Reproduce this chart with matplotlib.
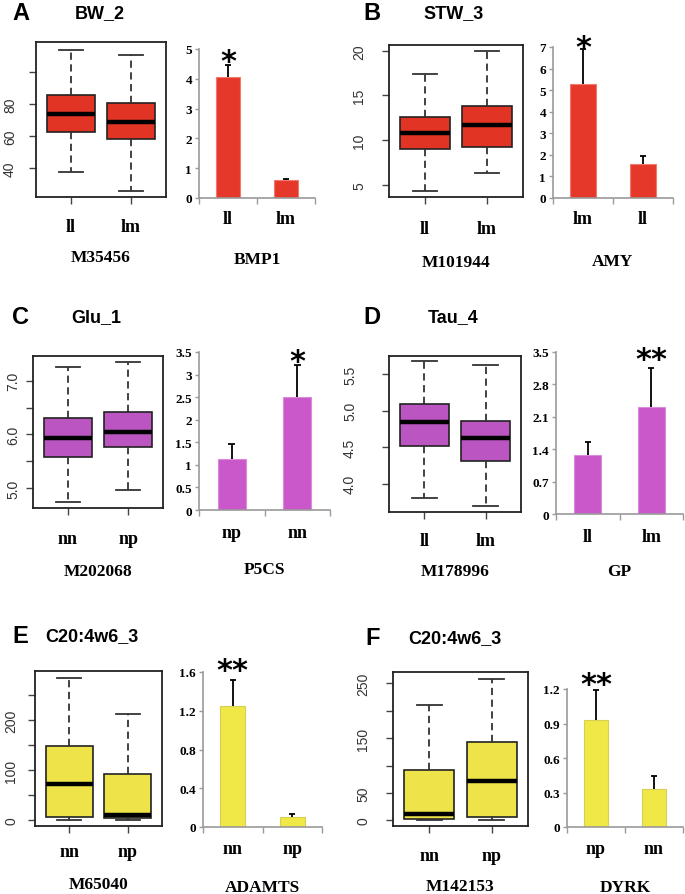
import matplotlib
matplotlib.use("Agg")
import matplotlib.pyplot as plt

W, H = 685, 895

# ---- data ----
# box stats: [low whisker, Q1, median, Q3, high whisker]
box_cats_A = ["ll", "lm"]
box_stats_A = [[37.7, 62.3, 73.8, 85.4, 114.0], [26.0, 58.5, 69.0, 80.4, 110.8]]
bar_cats_A = ["ll", "lm"]
bar_vals_A = [4.05, 0.60]
bar_errs_A = [0.40, 0.03]
bar_sig_A = ["*", ""]

box_cats_B = ["ll", "lm"]
box_stats_B = [[4.25, 9.0, 10.82, 12.57, 17.42], [6.34, 9.18, 11.68, 13.84, 20.0]]
bar_cats_B = ["lm", "ll"]
bar_vals_B = [5.28, 1.58]
bar_errs_B = [1.65, 0.35]
bar_sig_B = ["*", ""]

box_cats_C = ["nn", "np"]
box_stats_C = [[4.75, 5.58, 5.93, 6.30, 7.25], [4.96, 5.77, 6.05, 6.41, 7.35]]
bar_cats_C = ["np", "nn"]
bar_vals_C = [1.12, 2.50]
bar_errs_C = [0.35, 0.72]
bar_sig_C = ["", "*"]

box_cats_D = ["ll", "lm"]
box_stats_D = [[3.80, 4.51, 4.85, 5.09, 5.68], [3.69, 4.31, 4.63, 4.86, 5.62]]
bar_cats_D = ["ll", "lm"]
bar_vals_D = [1.27, 2.32]
bar_errs_D = [0.28, 0.83]
bar_sig_D = ["", "**"]

box_cats_E = ["nn", "np"]
box_stats_E = [[0.0, 6.7, 73.3, 148.0, 285.3], [1.3, 4.0, 11.0, 92.7, 212.0]]
bar_cats_E = ["nn", "np"]
bar_vals_E = [1.25, 0.10]
bar_errs_E = [0.27, 0.03]
bar_sig_E = ["**", ""]

box_cats_F = ["nn", "np"]
box_stats_F = [[1.0, 3.0, 11.0, 91.0, 210.9], [0.0, 6.7, 71.5, 142.4, 258.6]]
bar_cats_F = ["np", "nn"]
bar_vals_F = [0.93, 0.33]
bar_errs_F = [0.26, 0.11]
bar_sig_F = ["**", ""]

letters = ["A", "B", "C", "D", "E", "F"]
traits = ["BW_2", "STW_3", "Glu_1", "Tau_4", "C20:4w6_3", "C20:4w6_3"]
markers = ["M35456", "M101944", "M202068", "M178996", "M65040", "M142153"]
genes = ["BMP1", "AMY", "P5CS", "GP", "ADAMTS", "DYRK"]

box_ticks = [[40, 60, 80, 100], [5, 10, 15, 20], [5.0, 5.5, 6.0, 6.5, 7.0],
             [4.0, 4.5, 5.0, 5.5], [0, 50, 100, 150, 200, 250], [0, 50, 100, 150, 200, 250]]
box_ticklabels = [["40", "60", "80", ""], ["5", "10", "15", "20"], ["5.0", "", "6.0", "", "7.0"],
                  ["4.0", "4.5", "5.0", "5.5"], ["0", "", "100", "", "200", ""],
                  ["0", "50", "", "150", "", "250"]]
bar_ticks = [[0, 1, 2, 3, 4, 5], [0, 1, 2, 3, 4, 5, 6, 7], [0, 0.5, 1, 1.5, 2, 2.5, 3, 3.5],
             [0, 0.7, 1.4, 2.1, 2.8, 3.5], [0, 0.4, 0.8, 1.2, 1.6], [0, 0.3, 0.6, 0.9, 1.2]]
bar_ticklabels = [["0", "1", "2", "3", "4", "5"], ["0", "1", "2", "3", "4", "5", "6", "7"],
                  ["0", "0.5", "1", "1.5", "2", "2.5", "3", "3.5"],
                  ["0", "0.7", "1.4", "2.1", "2.8", "3.5"], ["0", "0.4", "0.8", "1.2", "1.6"],
                  ["0", "0.3", "0.6", "0.9", "1.2"]]

box_cats = [box_cats_A, box_cats_B, box_cats_C, box_cats_D, box_cats_E, box_cats_F]
box_stats = [box_stats_A, box_stats_B, box_stats_C, box_stats_D, box_stats_E, box_stats_F]
bar_cats = [bar_cats_A, bar_cats_B, bar_cats_C, bar_cats_D, bar_cats_E, bar_cats_F]
bar_vals = [bar_vals_A, bar_vals_B, bar_vals_C, bar_vals_D, bar_vals_E, bar_vals_F]
bar_errs = [bar_errs_A, bar_errs_B, bar_errs_C, bar_errs_D, bar_errs_E, bar_errs_F]
bar_sig = [bar_sig_A, bar_sig_B, bar_sig_C, bar_sig_D, bar_sig_E, bar_sig_F]

# ---- layout (pixels) ----
box_rects = [(36, 43, 166, 198), (389, 46, 523, 198), (33, 357, 163, 509),
             (389, 357, 521, 513), (35, 672, 162, 827), (393, 673, 528, 827)]
box_ylims = [(22, 118.75), (3.62, 20.64), (4.63, 7.46), (3.61, 5.75), (-11.3, 298.7), (-10.4, 270.8)]
box_lab_gap = [19, 23, 13, 32, 17, 23]
box_cat_y = [228, 230, 540, 542, 853, 857]
box_gene_y = [258, 263, 572, 572, 885, 887]
bar_rects = [(199, 50, 315, 199), (553, 48, 673, 199), (199, 353, 330, 511),
             (556, 353, 683, 515), (203, 673, 322, 828), (567, 690, 683, 828)]
bar_cat_y = [220, 220, 533, 537, 850, 850]
bar_gene_y = [260, 262, 570, 572, 888, 888]
star_off = [-5, -7, -5, 0, 1, -3]
head_y = [14, 14, 318, 318, 637, 639]
letter_x = [12, 363, 12, 363, 12, 365]
title_x = [75, 423, 71, 428, 45, 408]

box_colors = ["#e13424", "#e13424", "#ba55c1", "#ba55c1", "#eee449", "#eee449"]
bar_colors = ["#e6382a", "#e6382a", "#cb58cb", "#cb58cb", "#efe846", "#efe846"]
bar_edges = ["#f07a6e", "#f07a6e", "#d98ad9", "#d98ad9", "#d6cf55", "#d6cf55"]

SERIF = "Liberation Serif"
SANS = "Liberation Sans"

fig = plt.figure(figsize=(W / 100, H / 100), dpi=100)


def rect(r):
    x0, y0, x1, y1 = r
    return [x0 / W, 1 - y1 / H, (x1 - x0) / W, (y1 - y0) / H]


for i in range(6):
    # boxplot panel
    ax = fig.add_axes(rect(box_rects[i]))
    stats = [dict(whislo=s[0], q1=s[1], med=s[2], q3=s[3], whishi=s[4], label=c)
             for c, s in zip(box_cats[i], box_stats[i])]
    ax.bxp(stats, positions=[1, 2], widths=0.8, showfliers=False, patch_artist=True,
           capwidths=0.4,
           boxprops=dict(facecolor=box_colors[i], edgecolor="#222222", linewidth=1.2),
           medianprops=dict(color="black", linewidth=3.2, solid_capstyle="butt"),
           whiskerprops=dict(color="#333333", linestyle=(0, (4, 2.5)), linewidth=1.3),
           capprops=dict(color="#333333", linewidth=1.3))
    ax.set_xlim(0.42, 2.58)
    ax.set_ylim(box_ylims[i])
    for sp in ax.spines.values():
        sp.set_color("#222222")
        sp.set_linewidth(1.3)
    ax.set_yticks(box_ticks[i], box_ticklabels[i], rotation=90, va="center",
                  fontfamily=SANS, fontsize=10, color="#333333")
    ax.tick_params(axis="y", length=5, width=1, color="#444444",
                   pad=(box_lab_gap[i] - 7) * 0.72)
    bottom = box_rects[i][3]
    ax.set_xticks([1, 2], box_cats[i], fontfamily=SERIF, fontweight="bold", fontsize=13,
                  va="center")
    ax.tick_params(axis="x", length=5, width=1, color="#444444",
                   pad=(box_cat_y[i] - bottom) * 0.72 - 5)
    cx = (box_rects[i][0] + box_rects[i][2]) / 2
    fig.text(cx / W, 1 - box_gene_y[i] / H, markers[i], ha="center", va="center",
             fontfamily=SERIF, fontweight="bold", fontsize=12.5)

    # bar panel
    bx = fig.add_axes(rect(bar_rects[i]))
    xs = [0.5, 1.5]
    bx.bar(xs, bar_vals[i], width=0.42, color=bar_colors[i], edgecolor=bar_edges[i],
           linewidth=0.8, zorder=2)
    tops = [v + e for v, e in zip(bar_vals[i], bar_errs[i])]
    bx.vlines(xs, bar_vals[i], tops, color="black", linewidth=1.3, zorder=3)
    bx.hlines(tops, [x - 0.05 for x in xs], [x + 0.05 for x in xs], color="black",
              linewidth=1.3, zorder=3)
    for x, t, s in zip(xs, tops, bar_sig[i]):
        if s:
            bx.annotate(s, (x, t), xytext=(0, star_off[i] * 0.72), textcoords="offset points",
                        ha="center", va="baseline", fontsize=22, fontweight="bold",
                        fontfamily="DejaVu Sans")
    bx.set_xlim(0, 2)
    bx.set_ylim(bar_ticks[i][0], bar_ticks[i][-1])
    for side in ["top", "right"]:
        bx.spines[side].set_visible(False)
    for side in ["left", "bottom"]:
        bx.spines[side].set_color("#9a9a9a")
        bx.spines[side].set_linewidth(1.2)
    bx.set_yticks(bar_ticks[i], bar_ticklabels[i], fontfamily=SERIF, fontweight="bold",
                  fontsize=9.5)
    bx.tick_params(axis="y", length=3, width=1, color="#9a9a9a", pad=2)
    bx.set_xticks([0, 1, 2], ["", "", ""])
    bx.set_xticks(xs, bar_cats[i], minor=True, fontfamily=SERIF, fontweight="bold",
                  fontsize=13, va="center")
    bx.tick_params(axis="x", which="major", length=4, width=1, color="#9a9a9a")
    bbottom = bar_rects[i][3]
    bx.tick_params(axis="x", which="minor", length=0, pad=(bar_cat_y[i] - bbottom) * 0.72)
    bcx = (bar_rects[i][0] + bar_rects[i][2]) / 2
    fig.text(bcx / W, 1 - bar_gene_y[i] / H, genes[i], ha="center", va="center",
             fontfamily=SERIF, fontweight="bold", fontsize=12.5)

    # headings
    fig.text(letter_x[i] / W, 1 - head_y[i] / H, letters[i], ha="left", va="center",
             fontfamily=SANS, fontweight="bold", fontsize=17)
    fig.text(title_x[i] / W, 1 - head_y[i] / H, traits[i], ha="left", va="center",
             fontfamily=SANS, fontweight="bold", fontsize=13)

fig.savefig("out.png", dpi=100)
